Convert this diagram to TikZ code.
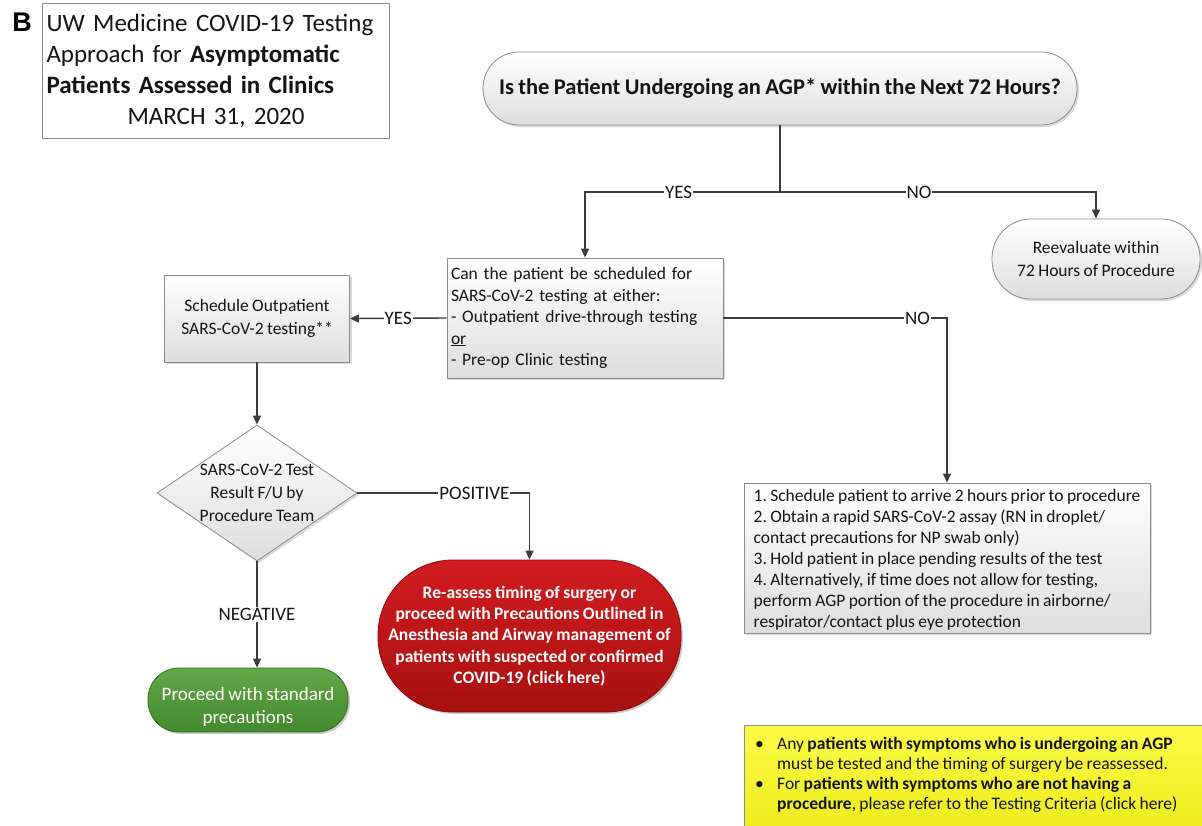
\documentclass[tikz,border=0pt]{standalone}
\usepackage{fontspec}
\setmainfont{Carlito}[WordSpace=0.85]
\newfontfamily\arialfont{Liberation Sans}
\usetikzlibrary{arrows.meta,shapes.geometric,shadows}
\AtBeginDocument{\frenchspacing}
\definecolor{linec}{RGB}{60,60,60}
\definecolor{boxline}{RGB}{140,140,140}
\definecolor{txt}{RGB}{20,20,20}
\definecolor{redtop}{RGB}{208,28,32}
\definecolor{redbot}{RGB}{168,16,16}
\definecolor{greentop}{RGB}{98,168,72}
\definecolor{greenbot}{RGB}{66,136,46}
\definecolor{yeltop}{RGB}{252,252,70}
\definecolor{yelbot}{RGB}{236,236,30}
\begin{document}
\begin{tikzpicture}[x=1pt,y=-1pt,
  greybox/.style={draw=boxline, line width=0.8pt, top color=white, bottom color=black!13,
     drop shadow={shadow xshift=2pt, shadow yshift=-2pt, fill=black, opacity=0.15},
     inner sep=0pt, text=txt},
  conn/.style={draw=linec, line width=1.4pt, -{Triangle[length=9pt,width=8pt]}},
  plain/.style={draw=linec, line width=1.4pt},
  lbl/.style={fill=white, inner sep=1pt, text=txt, font=\fontsize{19}{22}\selectfont}
]
\useasboundingbox (0,0) rectangle (1202,825);

% Letter and title
\node[font=\arialfont\bfseries\fontsize{27}{30}\selectfont, text=black] (B) at (22,22) {B};
\node[draw=boxline, line width=0.8pt, minimum width=347pt, minimum height=135pt,
      text width=339pt, align=left, inner sep=0pt, text=txt,
      font=\fontsize{25}{31}\selectfont] (title) at (216,70.5)
  {UW Medicine COVID-19 Testing\\Approach for \textbf{Asymptomatic}\\\textbf{Patients Assessed in Clinics}\\\hspace*{81pt}MARCH 31, 2020};

% Top question
\node[greybox, rounded corners=36pt, minimum width=594pt, minimum height=73pt,
      font=\bfseries\fontsize{22.5}{26}\selectfont] (q) at (780,88.5)
  {Is the Patient Undergoing an AGP* within the Next 72 Hours?};

% Reevaluate
\node[greybox, rounded corners=39pt, minimum width=208pt, minimum height=80pt,
      align=center, font=\fontsize{17.5}{23}\selectfont] (reeval) at (1096,259)
  {Reevaluate within\\72 Hours of Procedure};

% Can the patient box
\node[greybox, minimum width=276pt, minimum height=120pt, text width=268pt, align=left,
      font=\fontsize{17.5}{21.5}\selectfont] (can) at (585,318)
  {Can the patient be scheduled for\\SARS-CoV-2 testing at either:\\- Outpatient drive-through testing\\\underline{or}\\- Pre-op Clinic testing};

% Schedule outpatient
\node[greybox, minimum width=185pt, minimum height=87pt, align=center,
      font=\fontsize{17.5}{23}\selectfont] (sched) at (257,318.5)
  {Schedule Outpatient\\SARS-CoV-2 testing**};

% Diamond
\node[diamond, greybox, minimum width=200pt, minimum height=136pt,
      label={[align=center, text=txt, font=\fontsize{17.5}{23}\selectfont]center:{SARS-CoV-2 Test\\Result F/U by\\Procedure Team}}]
  (diam) at (257,493) {};

% Red outcome
\node[draw=redbot!80!black, line width=0.8pt, top color=redtop, bottom color=redbot,
      drop shadow={shadow xshift=2pt, shadow yshift=-2pt, fill=black, opacity=0.2},
      rounded corners=75pt, minimum width=303pt, minimum height=152pt, inner sep=0pt,
      align=center, text=white, font=\bfseries\fontsize{17.5}{21.2}\selectfont] (red) at (529.5,636)
  {Re-assess timing of surgery or\\proceed with Precautions Outlined in\\Anesthesia and Airway management of\\patients with suspected or confirmed\\COVID-19 (click here)};

% Green outcome
\node[draw=greenbot!80!black, line width=0.8pt, top color=greentop, bottom color=greenbot,
      drop shadow={shadow xshift=2pt, shadow yshift=-2pt, fill=black, opacity=0.2},
      rounded corners=31pt, minimum width=200pt, minimum height=64pt, inner sep=0pt,
      label={[align=center, text=white, yshift=-7pt, font=\fontsize{19}{23}\selectfont]center:{Proceed with standard\\precautions}}]
  (green) at (248,700) {};

% Rapid testing list
\node[greybox, minimum width=406pt, minimum height=150pt, inner xsep=4pt, align=left,
      font=\fontsize{17.5}{21}\selectfont] (list) at (947,558)
  {\rule{0pt}{16pt}1. Schedule patient to arrive 2 hours prior to procedure\\
   2. Obtain a rapid SARS-CoV-2 assay (RN in droplet/\\
   contact precautions for NP swab only)\\
   3. Hold patient in place pending results of the test\\
   4. Alternatively, if time does not allow for testing,\\
   perform AGP portion of the procedure in airborne/\\
   respirator/contact plus eye protection};

% Yellow note
\node[draw=boxline, line width=0.8pt, top color=yeltop, bottom color=yelbot,
      anchor=north west, minimum width=466pt, minimum height=105pt, inner sep=0pt] (note) at (744,725) {};
\node[anchor=north west, inner sep=0pt, align=left, text=txt,
      font=\fontsize{17.5}{20}\selectfont] (notetext) at (755,737)
  {\makebox[22pt][l]{\textbullet}Any \textbf{patients with symptoms who is undergoing an AGP}\\
   \hspace*{22pt}must be tested and the timing of surgery be reassessed.\\
   \makebox[22pt][l]{\textbullet}For \textbf{patients with symptoms who are not having a}\\
   \hspace*{22pt}\textbf{procedure}, please refer to the Testing Criteria (click here)};

% Connectors
\coordinate (j) at (780,192);
\draw[plain] (q.south -| j) -- (j);
\draw[conn] (j) -| node[lbl, pos=0.26] {YES} (can.north);
\draw[conn] (j) -| node[lbl, pos=0.22] {NO} (reeval.north);
\draw[conn] (can.west) -- node[lbl, pos=0.5] {YES} (sched.east);
\draw[conn] (sched.south) -- (diam.north);
\draw[conn] (diam.east) -| node[lbl, pos=0.34] {POSITIVE} (red.north);
\draw[conn] (diam.south) -- node[lbl, pos=0.5] {NEGATIVE} (diam.south |- green.north);
\draw[conn] (can.east) -| node[lbl, pos=0.434] {NO} (list.north);
\end{tikzpicture}
\end{document}
